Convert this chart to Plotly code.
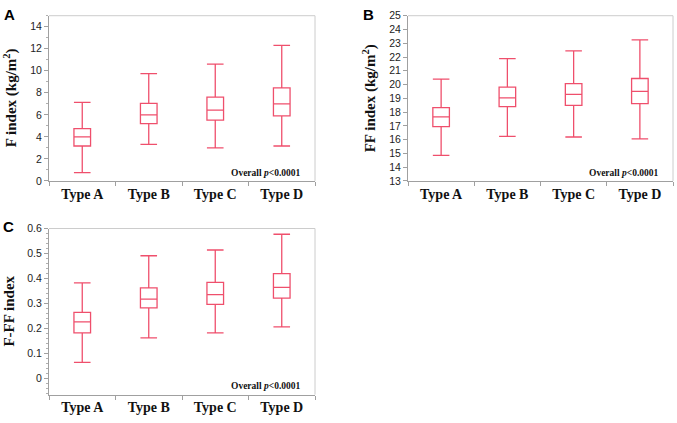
import plotly.graph_objects as go

categories = ["Type A", "Type B", "Type C", "Type D"]

# Panel A: F index (kg/m2)
f_min = [0.76, 3.32, 2.99, 3.17]
f_q1 = [3.17, 5.20, 5.52, 5.90]
f_med = [3.99, 5.99, 6.43, 6.99]
f_q3 = [4.75, 7.04, 7.60, 8.45]
f_max = [7.13, 9.74, 10.60, 12.30]

# Panel B: FF index (kg/m2)
ff_min = [14.85, 16.24, 16.19, 16.05]
ff_q1 = [16.94, 18.40, 18.49, 18.61]
ff_med = [17.65, 19.03, 19.29, 19.50]
ff_q3 = [18.33, 19.81, 20.07, 20.44]
ff_max = [20.40, 21.88, 22.44, 23.24]

# Panel C: F-FF index
r_min = [0.064, 0.162, 0.182, 0.206]
r_q1 = [0.182, 0.282, 0.296, 0.321]
r_med = [0.226, 0.317, 0.335, 0.364]
r_q3 = [0.264, 0.362, 0.384, 0.419]
r_max = [0.382, 0.491, 0.514, 0.577]

W, H = 677, 423
RED = "#ef4f6c"
SERIF = "Liberation Serif, Times New Roman, serif"
SANS = "Liberation Sans, Arial, sans-serif"

fig = go.Figure()

panels = [
    dict(ax="", lo=f_min, q1=f_q1, med=f_med, q3=f_q3, hi=f_max,
         xd=[49 / W, 315 / W], yd=[1 - 180 / H, 1 - 10 / H],
         rng=[0, 15], dtick=2, minor=1,
         title="F index (kg/m<sup>2</sup>)", tx=10, letter="A", lx=9, ly=9),
    dict(ax="2", lo=ff_min, q1=ff_q1, med=ff_med, q3=ff_q3, hi=ff_max,
         xd=[408 / W, 673 / W], yd=[1 - 180 / H, 1 - 10 / H],
         rng=[13, 25], dtick=1, minor=None,
         title="FF index (kg/m<sup>2</sup>)", tx=369, letter="B", lx=368, ly=9),
    dict(ax="3", lo=r_min, q1=r_q1, med=r_med, q3=r_q3, hi=r_max,
         xd=[49 / W, 315 / W], yd=[1 - 400 / H, 1 - 229 / H],
         rng=[-0.065, 0.6], dtick=0.1, minor=0.02,
         title="F-FF index", tx=9, letter="C", lx=8, ly=227),
]

layout = dict(
    width=W, height=H, margin=dict(l=0, r=0, t=0, b=0),
    paper_bgcolor="white", plot_bgcolor="white", showlegend=False,
)
annotations = []
shapes = []

for p in panels:
    a = p["ax"]
    fig.add_trace(go.Box(
        x=categories, q1=p["q1"], median=p["med"], q3=p["q3"],
        lowerfence=p["lo"], upperfence=p["hi"],
        boxpoints=False, width=0.25, whiskerwidth=1,
        line=dict(color=RED, width=1.3), fillcolor="rgba(255,255,255,0)",
        xaxis="x" + a, yaxis="y" + a,
    ))
    xa = dict(
        domain=p["xd"], anchor="y" + a, type="category",
        range=[-0.5, 3.5], tickson="boundaries", ticks="outside", ticklen=4,
        tickcolor="#a0a0a0", showline=True, linecolor="#a0a0a0", linewidth=1,
        showgrid=False, zeroline=False, fixedrange=True,
        tickfont=dict(family=SERIF, size=14, color="#111", weight="bold"),
    )
    ya = dict(
        domain=p["yd"], anchor="x" + a, range=p["rng"], dtick=p["dtick"],
        tick0=0, ticks="outside", ticklen=4, tickcolor="#a0a0a0",
        showline=True, linecolor="#a0a0a0", linewidth=1,
        showgrid=False, zeroline=False,
        tickfont=dict(family=SANS, size=10.5, color="#222"),
    )
    if p["minor"]:
        ya["minor"] = dict(dtick=p["minor"], ticks="outside", ticklen=2.5,
                           tickcolor="#b0b0b0", showgrid=False)
    layout["xaxis" + a] = xa
    layout["yaxis" + a] = ya

    xr = "x" + a + " domain"
    yr = "y" + a + " domain"
    # light frame (top and right edges)
    shapes.append(dict(type="line", xref=xr, yref=yr, x0=0, x1=1, y0=1, y1=1,
                       line=dict(color="#cccccc", width=1)))
    shapes.append(dict(type="line", xref=xr, yref=yr, x0=1, x1=1, y0=0, y1=1,
                       line=dict(color="#cccccc", width=1)))

    annotations.append(dict(
        text="Overall <i>p</i><0.0001", xref=xr, yref=yr, x=0.955, y=0.05,
        xanchor="right", yanchor="middle", showarrow=False,
        font=dict(family=SERIF, size=9.5, color="#111", weight="bold"),
    ))
    annotations.append(dict(
        text=p["title"], xref="paper", x=p["tx"] / W, yref=yr, y=0.5,
        xanchor="center", yanchor="middle", textangle=-90, showarrow=False,
        font=dict(family=SERIF, size=15, color="#111", weight="bold"),
    ))
    annotations.append(dict(
        text=p["letter"], xref="paper", yref="paper",
        x=p["lx"] / W, y=1 - p["ly"] / H, xanchor="center", yanchor="middle",
        showarrow=False,
        font=dict(family=SANS, size=15, color="#000", weight="bold"),
    ))

layout["annotations"] = annotations
layout["shapes"] = shapes
fig.update_layout(**layout)
fig.write_html(
    "out.html",
    config={"displayModeBar": False, "staticPlot": True},
    post_script="document.body.style.margin='0';document.body.style.overflow='hidden';",
)
